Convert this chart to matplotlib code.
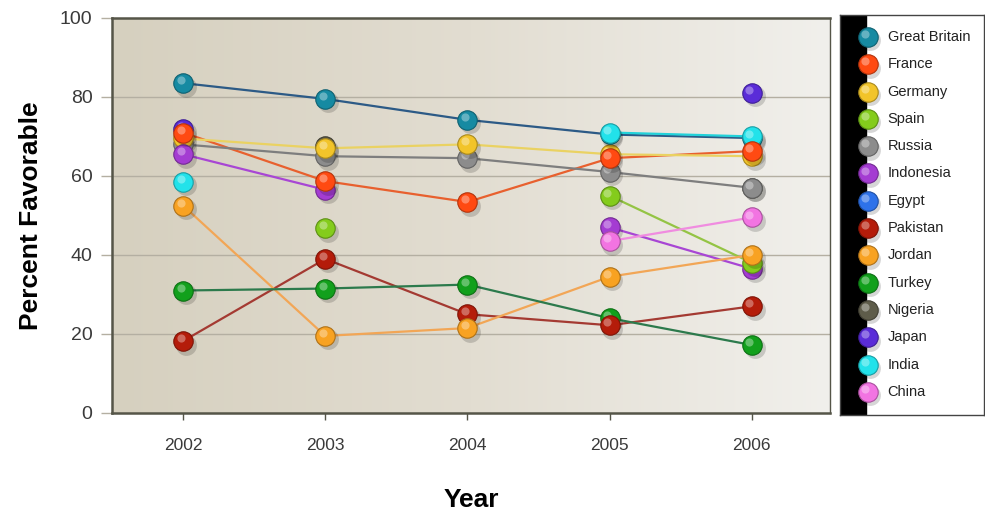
import numpy as np
import matplotlib
matplotlib.use("Agg")
import matplotlib.pyplot as plt
from matplotlib import transforms

plt.rcParams["font.family"] = ["Liberation Sans", "DejaVu Sans"]

nan = np.nan

years = [2002, 2003, 2004, 2005, 2006]

countries = ["Great Britain", "France", "Germany", "Spain", "Russia", "Indonesia", "Egypt",
             "Pakistan", "Jordan", "Turkey", "Nigeria", "Japan", "India", "China"]

great_britain = [83.5, 79.5, 74.2, 70.5, 69.6]
france = [71.0, 58.7, 53.4, 64.5, 66.3]
germany = [69.5, 67.0, 68.0, 65.5, 65.0]
spain = [nan, 46.8, nan, 55.0, 38.0]
russia = [68.0, 65.0, 64.5, 61.0, 57.0]
indonesia = [65.5, 56.5, nan, 47.0, 36.5]
egypt = [nan, nan, nan, nan, nan]
pakistan = [18.2, 39.0, 25.0, 22.2, 27.0]
jordan = [52.5, 19.5, 21.5, 34.5, 40.0]
turkey = [31.0, 31.5, 32.5, 24.0, 17.2]
nigeria = [nan, 67.5, nan, nan, 57.0]
japan = [72.0, nan, nan, nan, 81.0]
india = [58.5, nan, nan, 71.0, 70.0]
china = [nan, nan, nan, 43.5, 49.5]

series = [great_britain, france, germany, spain, russia, indonesia, egypt,
          pakistan, jordan, turkey, nigeria, japan, india, china]

ball_colors = ["#168aa2", "#ff4a12", "#f2c42a", "#84cc1c", "#8c8c8c", "#a43cd2", "#2e72ea",
               "#b41c0a", "#f8a222", "#12a01c", "#5e5c4a", "#5a2cd8", "#22e2ea", "#f274e2"]
line_colors = ["#2c5a86", "#e8602e", "#ead262", "#94c444", "#7e7e7e", "#a846d4", "#2e72ea",
               "#a43a32", "#f2a656", "#2c7a4c", "#5e5c4a", "#5a2cd8", "#22d2da", "#f08ce0"]
# drawing order of the balls (later ones sit on top)
draw_order = [10, 4, 11, 2, 0, 12, 5, 1, 3, 9, 7, 8, 13, 6]


def lighten(color, amount):
    c = np.array(matplotlib.colors.to_rgb(color))
    return tuple(c + (1 - c) * amount)


def darken(color, amount):
    c = np.array(matplotlib.colors.to_rgb(color))
    return tuple(c * (1 - amount))


def draw_ball(ax, x, y, color, size=14, z=5):
    shadow = transforms.offset_copy(ax.transData, fig=ax.figure, x=2.0, y=-2.5, units="points")
    hi = transforms.offset_copy(ax.transData, fig=ax.figure, x=-size * 0.13, y=size * 0.15,
                                units="points")
    ax.plot(x, y, "o", ms=size + 1, color="#000000", alpha=0.16, mec="none",
            transform=shadow, zorder=z)
    ax.plot(x, y, "o", ms=size, color=color, mec=darken(color, 0.3), mew=0.8, zorder=z + 0.1)
    ax.plot(x, y, "o", ms=size * 0.42, color=lighten(color, 0.4), mec="none",
            alpha=0.85, transform=hi, zorder=z + 0.2)


fig = plt.figure(figsize=(9.85, 5.13), dpi=100)
ax = fig.add_axes([0.1137, 0.195, 0.729, 0.770])

# beige background gradient
grad = np.linspace(0, 1, 256)[None, :]
cmap = matplotlib.colors.LinearSegmentedColormap.from_list("bg", ["#d6d0bf", "#e2ddd1", "#f1f0ec"])
ax.imshow(grad, extent=[0, 1, 0, 1], transform=ax.transAxes, aspect="auto",
          cmap=cmap, zorder=0)

ax.set_xlim(2001.5, 2006.55)
ax.set_ylim(0, 100)
ax.set_yticks([0, 20, 40, 60, 80, 100])
ax.set_xticks(years)
ax.set_xticklabels([str(y) for y in years])
for yv in [20, 40, 60, 80]:
    ax.axhline(yv, color="#b4afa2", lw=1.0, zorder=1)

for s in ["left", "bottom", "top"]:
    ax.spines[s].set_color("#555548")
    ax.spines[s].set_linewidth(1.8)
ax.spines["right"].set_color("#555548")
ax.spines["right"].set_linewidth(1.0)

ax.tick_params(axis="y", length=8, color="#b4afa2", width=1.0, labelsize=14,
               labelcolor="#3a3a3a", pad=6)
ax.tick_params(axis="x", length=5, color="#555548", width=1.0, labelsize=12.5,
               labelcolor="#3a3a3a", pad=13)

ax.set_ylabel("Percent Favorable", fontsize=19, fontweight="bold", labelpad=12)
ax.set_xlabel("Year", fontsize=19, fontweight="bold", labelpad=25)

# lines (gaps where data is missing)
for i, vals in enumerate(series):
    ax.plot(years, vals, color=line_colors[i], lw=1.6, zorder=2, solid_capstyle="round")

# balls
for i in draw_order:
    for x, y in zip(years, series[i]):
        if not np.isnan(y):
            draw_ball(ax, x, y, ball_colors[i], z=5 + draw_order.index(i) * 0.5)

# legend panel
lax = fig.add_axes([0.853, 0.191, 0.146, 0.780])
lax.set_xlim(0, 1)
lax.set_ylim(0, 1)
lax.set_xticks([])
lax.set_yticks([])
for s in lax.spines.values():
    s.set_color("#444444")
    s.set_linewidth(1.0)
lax.add_patch(plt.Rectangle((0, 0), 0.18, 1, color="#000000", zorder=1))
top_y = 1 - 22 / 400
step = 27.3 / 400
for i, name in enumerate(countries):
    yy = top_y - i * step
    draw_ball(lax, 0.19, yy, ball_colors[i], size=14, z=3)
    lax.text(0.33, yy, name, fontsize=10.5, color="#222222", va="center", ha="left")

fig.savefig("out.png", dpi=100)
